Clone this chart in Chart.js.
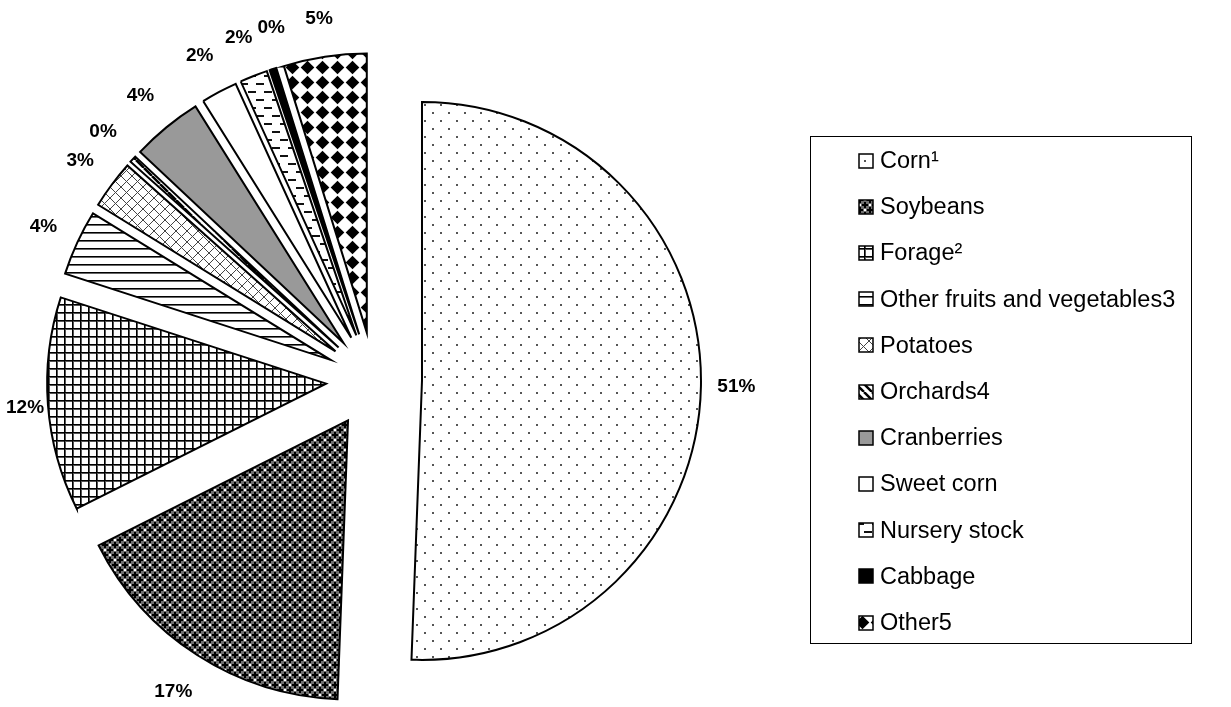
<!DOCTYPE html>
<html>
<head>
<meta charset="utf-8">
<title>Crop shares</title>
<script src="https://cdn.jsdelivr.net/npm/chart.js@4.4.1/dist/chart.umd.min.js"></script>
<style>
  html, body { margin: 0; padding: 0; background: #fff; }
  canvas { display: block; }
</style>
</head>
<body>
<canvas id="myChart" width="1231" height="707"></canvas>
<script>
// Data (percent of total)
const crops = ['Corn¹', 'Soybeans', 'Forage²', 'Other fruits and vegetables3', 'Potatoes', 'Orchards4',
  'Cranberries', 'Sweet corn', 'Nursery stock', 'Cabbage', 'Other5'];
const shares = [50.6, 17.0, 12.4, 3.8, 2.8, 0.4, 4.1, 2.1, 1.6, 0.4, 4.8];

const FONT = '"Liberation Sans", Arial, sans-serif';
const EXPLODE = 48;     // how far each slice is pulled out
const LABEL_GAP = 16;

// small tile -> canvas pattern
function makePattern(size, draw) {
  const c = document.createElement('canvas');
  c.width = size;
  c.height = size;
  const g = c.getContext('2d');
  g.fillStyle = '#fff';
  g.fillRect(0, 0, size, size);
  draw(g, size);
  return g.createPattern(c, 'repeat');
}

const dots = makePattern(16, (g) => {
  g.fillStyle = '#555';
  g.fillRect(0, 0, 2, 2);
  g.fillRect(8, 8, 2, 2);
});

const trellis = makePattern(10, (g) => {
  g.fillStyle = '#707070';
  g.fillRect(0, 0, 10, 10);
  g.fillStyle = '#000';
  for (const [cx, cy] of [[0, 0], [10, 0], [0, 10], [10, 10], [5, 5]]) {
    g.fillRect(cx - 1, cy - 3, 2, 6);
    g.fillRect(cx - 3, cy - 1, 6, 2);
  }
  g.fillStyle = '#fff';
  for (const [cx, cy] of [[5, 0], [5, 10], [0, 5], [10, 5]]) {
    g.fillRect(cx - 1, cy - 1, 2, 2);
  }
});

const grid = makePattern(8, (g) => {
  g.fillStyle = '#000';
  g.fillRect(0, 0, 8, 1);
  g.fillRect(0, 0, 1, 8);
  g.fillStyle = '#555';
  g.fillRect(1, 1, 7, 1);
  g.fillRect(1, 1, 1, 7);
});

const hlines = makePattern(8, (g) => {
  g.fillStyle = '#000';
  g.fillRect(0, 0, 8, 1);
  g.fillStyle = '#666';
  g.fillRect(0, 1, 8, 1);
});

const crosshatch = makePattern(11, (g, s) => {
  g.strokeStyle = '#444';
  g.lineWidth = 1;
  g.beginPath();
  g.moveTo(0, 0); g.lineTo(s, s);
  g.moveTo(s, 0); g.lineTo(0, s);
  g.stroke();
});

const diagonal = makePattern(8, (g, s) => {
  g.strokeStyle = '#000';
  g.lineWidth = 2.5;
  g.beginPath();
  for (const k of [-s, 0, s]) {
    g.moveTo(k, 0);
    g.lineTo(k + s, s);
  }
  g.stroke();
});

const dashes = makePattern(16, (g) => {
  g.fillStyle = '#111';
  g.fillRect(0, 3, 8, 2);
  g.fillRect(8, 11, 8, 2);
});

const diamonds = makePattern(15, (g) => {
  g.fillStyle = '#000';
  g.beginPath();
  g.moveTo(7.5, 0.7);
  g.lineTo(14.3, 7.5);
  g.lineTo(7.5, 14.3);
  g.lineTo(0.7, 7.5);
  g.closePath();
  g.fill();
});

const fills = [dots, trellis, grid, hlines, crosshatch, diagonal, '#999999', '#ffffff', dashes, '#000000', diamonds];

// Pull every slice out from the centre along its middle angle
const explodePlugin = {
  id: 'explode',
  afterDatasetUpdate(chart, args) {
    args.meta.data.forEach((arc) => {
      const mid = (arc.startAngle + arc.endAngle) / 2;
      arc.x += Math.cos(mid) * EXPLODE;
      arc.y += Math.sin(mid) * EXPLODE;
    });
  }
};

function overlaps(a, b) {
  return Math.abs(a.x - b.x) < (a.w + b.w) / 2 + 3 && Math.abs(a.y - b.y) < (a.h + b.h) / 2 + 2;
}

// Percent labels outside each slice
const percentLabels = {
  id: 'percentLabels',
  afterDatasetsDraw(chart) {
    const ctx = chart.ctx;
    const meta = chart.getDatasetMeta(0);
    const total = shares.reduce((a, b) => a + b, 0);
    const placed = [];
    ctx.save();
    ctx.font = 'bold 19px ' + FONT;
    ctx.fillStyle = '#000';
    ctx.textAlign = 'center';
    ctx.textBaseline = 'middle';
    meta.data.forEach((arc, i) => {
      const text = Math.round(shares[i] / total * 100) + '%';
      const w = ctx.measureText(text).width;
      const h = 14;
      let angle = (arc.startAngle + arc.endAngle) / 2;
      let box;
      for (let step = 0; step < 40; step++) {
        const dx = Math.cos(angle);
        const dy = Math.sin(angle);
        const dist = arc.outerRadius + LABEL_GAP + 14 * Math.abs(dy) +
          Math.abs(dx) * w / 2 + Math.abs(dy) * h / 2;
        let x = arc.x + dx * dist;
        let y = arc.y + dy * dist;
        // keep inside the canvas
        x = Math.min(Math.max(x, w / 2 + 6), chart.width - w / 2 - 6);
        y = Math.min(Math.max(y, h / 2 + 4), chart.height - h / 2 - 4);
        box = {x, y, w, h};
        if (!placed.some((p) => overlaps(p, box))) break;
        angle += 0.5 * Math.PI / 180; // nudge clockwise
      }
      placed.push(box);
      ctx.fillText(text, box.x, box.y);
    });
    ctx.restore();
  }
};

// Boxed legend on the right
const boxLegend = {
  id: 'boxLegend',
  afterDraw(chart) {
    const ctx = chart.ctx;
    const bg = chart.data.datasets[0].backgroundColor;
    ctx.save();
    ctx.strokeStyle = '#000';
    ctx.lineWidth = 1;
    ctx.strokeRect(810.5, 136.5, 381, 507);
    ctx.font = '23.5px ' + FONT;
    ctx.textBaseline = 'middle';
    ctx.textAlign = 'left';
    chart.data.labels.forEach((label, i) => {
      const y = 160.5 + i * 46.2;
      ctx.fillStyle = bg[i];
      ctx.fillRect(859, Math.round(y - 7), 14, 14);
      ctx.lineWidth = 1.5;
      ctx.strokeRect(859, Math.round(y - 7), 14, 14);
      ctx.fillStyle = '#000';
      ctx.fillText(label, 880, y + 1);
    });
    ctx.restore();
  }
};

const ctx = document.querySelector('#myChart');
new Chart(ctx, {
  type: 'pie',
  data: {
    labels: crops,
    datasets: [{
      data: shares,
      backgroundColor: fills,
      borderColor: '#000',
      borderWidth: 2,
      borderJoinStyle: 'miter'
    }]
  },
  options: {
    responsive: false,
    animation: false,
    events: [],
    radius: 279,
    layout: { padding: { left: 0, right: 483, top: 53, bottom: 0 } },
    plugins: {
      legend: { display: false },
      tooltip: { enabled: false }
    }
  },
  plugins: [explodePlugin, percentLabels, boxLegend]
});
</script>
</body>
</html>
